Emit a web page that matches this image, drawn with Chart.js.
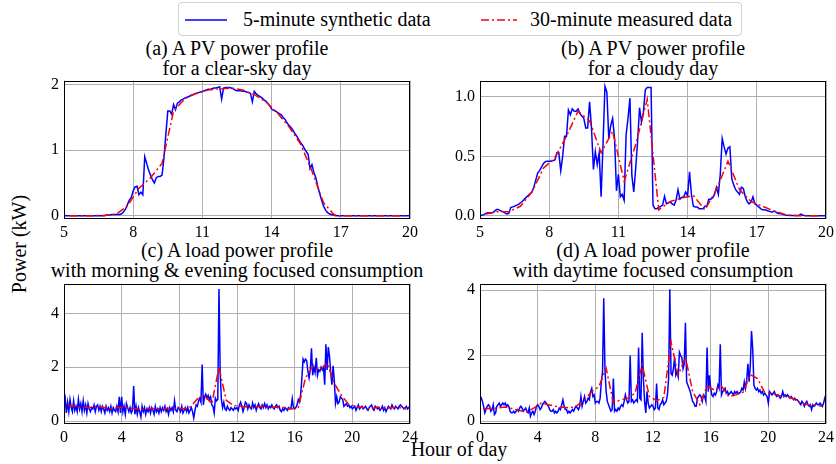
<!DOCTYPE html>
<html>
<head>
<meta charset="utf-8">
<script src="https://cdn.jsdelivr.net/npm/chart.js@4"></script>
<style>
  body { margin: 0; width: 836px; height: 464px; background: #fff; position: relative; overflow: hidden;
         font-family: "Liberation Serif", "Times New Roman", Times, "Nimbus Roman", "DejaVu Serif", serif; color: #000; }
  .title { position: absolute; text-align: center; font-size: 20px; line-height: 20px; white-space: nowrap; transform: translateX(-50%); }
  .legend { position: absolute; left: 178px; top: 2px; width: 562px; height: 32px; border: 1px solid #d0d0d0;
            border-radius: 4px; font-size: 20px; line-height: 32px; background: #fff; }
  .legend span { position: absolute; top: 0; }
  .legend svg { position: absolute; top: 15px; }
  .panel { position: absolute; }
</style>
</head>
<body>

<div class="legend">
  <svg style="left:6px" width="44" height="4"><line x1="0" y1="2" x2="42" y2="2" stroke="#0000ff" stroke-width="1.6"/></svg>
  <span style="left:64px">5-minute synthetic data</span>
  <svg style="left:302px" width="38" height="4"><line x1="0" y1="2" x2="36" y2="2" stroke="#ff0000" stroke-width="1.6" stroke-dasharray="8 3 2 3"/></svg>
  <span style="left:351px">30-minute measured data</span>
</div>

<div class="title" style="left:237px; top:38px">(a) A PV power profile<br>for a clear-sky day</div>
<div class="title" style="left:653px; top:38px">(b) A PV power profile<br>for a cloudy day</div>
<div class="title" style="left:237px; top:240px">(c) A load power profile<br>with morning &amp; evening focused consumption</div>
<div class="title" style="left:653px; top:240px">(d) A load power profile<br>with daytime focused consumption</div>

<div class="title" style="left:19px; top:234px; transform: translate(-50%, 0) rotate(-90deg);">Power (kW)</div>
<div class="title" style="left:459px; top:439px">Hour of day</div>

<div class="panel" id="pa"><canvas id="ca"></canvas></div>
<div class="panel" id="pb"><canvas id="cb"></canvas></div>
<div class="panel" id="pc"><canvas id="cc"></canvas></div>
<div class="panel" id="pd"><canvas id="cd"></canvas></div>

<script>
// 5-minute synthetic PV, clear-sky day, 05:00 .. 20:00
const clearSky5min = [
  0,0,0,0,0,0,0,0,0,0,0,0,
  0,0,0,0,0,0,0,0,0,0,0.01,0.01,
  0.01,0.02,0.02,0.02,0.02,0.02,0.03,0.06,0.1,0.17,0.24,0.28,
  0.38,0.44,0.45,0.32,0.36,0.32,0.9,0.8,0.7,0.62,0.55,0.5,
  0.58,0.6,0.6,0.62,0.88,1.25,1.6,1.6,1.55,1.7,1.62,1.72,
  1.74,1.77,1.78,1.8,1.81,1.82,1.84,1.85,1.86,1.87,1.88,1.89,
  1.9,1.91,1.92,1.93,1.93,1.94,1.95,1.95,1.96,1.97,1.78,1.95,
  1.96,1.96,1.96,1.95,1.94,1.92,1.91,1.91,1.91,1.9,1.9,1.89,
  1.88,1.87,1.74,1.9,1.86,1.84,1.82,1.8,1.77,1.75,1.72,1.68,
  1.63,1.61,1.6,1.58,1.56,1.54,1.5,1.47,1.42,1.38,1.35,1.31,
  1.26,1.22,1.17,1.12,1.08,1.03,0.98,0.94,0.72,0.78,0.66,0.58,
  0.45,0.34,0.24,0.15,0.09,0.05,0.03,0.02,0.01,0.01,0,0,
  0,0,0,0,0,0,0,0,0,0,0,0,
  0,0,0,0,0,0,0,0,0,0,0,0,
  0,0,0,0,0,0,0,0,0,0,0,0,
  0
];
// 30-minute measured PV, clear-sky day, at 05:15, 05:45 .. 19:45
const clearSky30min = [0,0,0,0.005,0.02,0.15,0.42,0.58,0.8,1.6,1.79,1.87,1.92,1.94,1.95,
  1.92,1.85,1.74,1.57,1.36,1.1,0.68,0.2,0,0,0,0,0,0,0];

// 5-minute synthetic PV, cloudy day, 05:00 .. 20:00
const cloudy5min = [
  0,0.005,0.01,0.02,0.025,0.025,0.025,0.03,0.045,0.055,0.05,0.04,
  0.035,0.025,0.015,0.02,0.07,0.075,0.08,0.09,0.095,0.11,0.12,0.14,
  0.155,0.17,0.185,0.2,0.24,0.3,0.36,0.38,0.41,0.44,0.455,0.46,
  0.46,0.46,0.465,0.47,0.53,0.53,0.38,0.5,0.67,0.67,0.89,0.85,
  0.9,0.88,0.88,0.9,0.86,0.84,0.82,0.74,0.74,0.96,0.74,0.39,
  0.54,0.43,0.53,0.16,0.6,1.09,1.04,0.65,0.76,0.82,0.65,0.21,
  0.35,0.16,0.18,0.13,0.68,0.82,0.99,0.34,0.2,0.4,0.63,0.91,
  0.79,0.87,1.06,1.08,1.08,1.08,0.09,0.06,0.06,0.07,0.08,0.09,
  0.165,0.1,0.11,0.115,0.1,0.09,0.13,0.22,0.14,0.155,0.16,0.2,
  0.17,0.37,0.18,0.08,0.075,0.075,0.06,0.06,0.06,0.08,0.08,0.14,
  0.14,0.15,0.18,0.24,0.18,0.35,0.65,0.58,0.52,0.57,0.58,0.31,
  0.26,0.22,0.2,0.18,0.24,0.23,0.16,0.12,0.1,0.115,0.16,0.1,
  0.09,0.075,0.06,0.05,0.05,0.047,0.04,0.035,0.03,0.04,0.03,0.02,
  0.02,0.015,0.01,0.006,0.004,0.003,0.002,0.002,0.002,0.003,0.005,0.014,
  0.005,0.002,0,0,0,0,0,0,0,0,0,0,
  0
];
const cloudy30min = [0.015,0.035,0.035,0.08,0.2,0.4,0.49,0.67,0.88,0.8,0.53,0.71,0.29,0.6,0.98,
  0.05,0.12,0.15,0.17,0.05,0.22,0.46,0.22,0.12,0.08,0.04,0.01,0,0,0];

// 5-minute synthetic load, morning & evening profile, 00:00 .. 24:00
const loadME5min = [
  0.65,0.85,0.3,0.7,0.35,0.8,0.5,0.35,0.75,0.4,0.55,0.35,
  0.8,0.45,0.65,0.35,0.75,0.4,0.6,0.3,0.65,0.45,0.35,0.5,
  0.45,0.6,0.35,0.55,0.6,0.4,0.55,0.35,0.55,0.45,0.3,0.55,
  0.4,0.5,0.35,0.55,0.3,0.5,0.4,0.35,0.55,0.35,0.9,0.3,
  0.9,0.35,0.55,0.25,0.65,0.5,0.35,0.5,0.3,0.4,1.3,0.25,
  0.55,0.25,0.5,0.35,0.15,0.55,0.35,0.5,0.25,0.45,0.35,0.5,
  0.3,0.5,0.4,0.25,0.55,0.35,0.45,0.3,0.5,0.35,0.5,0.4,
  0.55,0.35,0.45,0.25,0.5,0.4,0.5,0.35,0.75,0.4,0.35,0.5,
  0.45,0.35,0.55,0.3,0.4,0.5,0.35,0.5,0.3,0.4,0.5,0.35,
  0.12,0.4,0.6,0.55,0.75,0.85,0.7,2.1,0.6,0.9,1.0,0.85,
  0.95,0.8,0.9,0.6,0.55,0.3,0.85,0.75,0.8,4.9,1.8,0.8,
  0.5,0.7,0.45,0.4,0.55,0.45,0.4,0.5,0.45,0.4,0.5,0.45,
  0.5,0.4,0.6,0.7,0.55,0.35,0.5,0.7,0.65,0.45,0.6,0.5,
  0.45,0.67,0.5,0.6,0.4,0.55,0.65,0.5,0.45,0.6,0.5,0.65,
  0.5,0.6,0.45,0.55,0.5,0.6,0.5,0.45,0.55,0.6,0.5,0.55,
  0.4,0.35,0.45,0.4,0.5,0.45,0.4,0.5,0.45,0.5,0.83,0.5,
  0.45,0.5,0.6,0.8,0.7,1.0,1.6,2.3,2.2,2.3,2.25,1.85,
  1.6,1.9,2.7,1.7,2.0,1.8,2.35,1.7,1.9,1.85,2.0,1.9,
  2.0,1.35,2.85,1.9,2.75,2.4,1.8,1.35,2.05,1.5,0.65,0.9,
  0.65,0.7,0.9,0.85,0.8,0.55,0.6,0.65,0.55,0.6,0.5,0.55,
  0.45,0.5,0.55,0.4,0.5,0.6,0.45,0.5,0.55,0.45,0.5,0.55,
  0.45,0.4,0.5,0.55,0.6,0.45,0.4,0.55,0.5,0.45,0.5,0.4,
  0.45,0.55,0.4,0.5,0.35,0.45,0.55,0.5,0.45,0.6,0.5,0.45,
  0.55,0.5,0.45,0.55,0.6,0.55,0.5,0.45,0.5,0.55,0.45,0.5,
  0.55
];
// 30-minute measured load at 00:15, 00:45 .. 23:45
const loadME30min = [0.6,0.55,0.52,0.5,0.55,0.5,0.45,0.5,0.52,0.48,0.42,0.47,0.47,0.45,0.48,0.48,
  0.46,0.52,0.82,0.95,0.64,2.0,0.77,0.58,0.55,0.52,0.52,0.55,0.5,0.52,0.5,0.45,
  0.5,1.6,2.02,1.9,2.15,1.4,0.95,0.62,0.55,0.5,0.45,0.52,0.48,0.5,0.5,0.45];

// 5-minute synthetic load, daytime profile, 00:00 .. 24:00
const loadDay5min = [
  0.7,0.72,0.6,0.45,0.25,0.35,0.45,0.5,0.45,0.3,0.35,0.5,
  0.2,0.25,0.45,0.5,0.55,0.45,0.5,0.55,0.5,0.55,0.45,0.5,
  0.45,0.3,0.25,0.25,0.3,0.25,0.3,0.35,0.3,0.4,0.45,0.4,
  0.3,0.35,0.4,0.3,0.25,0.4,0.15,0.25,0.3,0.2,0.3,0.45,
  0.5,0.45,0.35,0.4,0.5,0.55,0.6,0.55,0.5,0.45,0.35,0.3,
  0.3,0.35,0.25,0.3,0.25,0.3,0.4,0.35,0.5,0.65,0.45,0.35,
  0.35,0.25,0.3,0.25,0.3,0.35,0.3,0.4,0.45,0.4,0.35,0.45,
  0.75,0.45,0.6,0.75,0.55,0.6,0.7,0.65,0.9,1.0,0.75,0.8,
  0.55,0.6,0.6,0.55,0.7,1.2,1.5,3.75,1.6,0.9,0.6,0.5,
  0.4,0.3,0.35,1.3,0.3,0.35,0.3,0.4,0.35,0.45,0.5,0.45,
  0.6,0.8,0.65,0.55,0.6,2.0,0.6,0.65,0.55,0.6,0.65,0.6,
  2.25,0.7,0.65,2.7,1.3,0.6,0.25,0.9,0.55,0.4,0.45,0.5,
  0.45,0.35,0.4,1.15,0.4,0.35,0.5,0.55,0.65,0.5,0.55,0.6,
  0.8,1.3,4.03,1.45,1.4,1.6,1.95,1.4,1.5,1.35,2.1,2.0,
  1.95,1.6,1.75,3.0,1.2,1.1,1.0,0.9,0.75,0.6,0.55,0.45,
  0.45,0.7,0.75,0.8,0.75,0.6,0.8,0.75,0.6,2.25,0.9,1.4,
  1.0,0.8,0.75,0.85,0.8,0.9,1.1,1.0,2.35,0.8,0.9,0.95,
  1.0,0.85,0.9,0.8,0.85,0.9,0.85,0.8,0.9,0.85,0.9,0.85,
  0.85,0.9,1.0,0.95,1.2,1.0,1.25,1.75,1.2,1.7,2.75,2.2,
  1.1,1.0,0.95,1.0,0.9,0.95,0.85,0.9,0.8,0.85,0.8,0.75,
  0.55,0.9,0.85,0.8,0.85,0.9,0.8,0.75,0.8,0.75,0.7,0.75,
  0.9,0.75,0.8,0.75,0.8,0.75,0.7,0.75,0.7,0.65,0.7,0.65,
  0.65,0.6,0.55,0.5,0.6,0.55,0.45,0.55,0.6,0.5,0.45,0.5,
  0.35,0.5,0.45,0.5,0.55,0.5,0.5,0.55,0.5,0.45,0.55,0.7,
  0.6
];
const loadDay30min = [0.38,0.38,0.4,0.43,0.38,0.32,0.28,0.4,0.55,0.5,0.45,0.42,0.4,0.48,0.65,0.9,
  1.05,1.62,0.55,0.65,0.7,0.85,1.72,0.75,0.62,0.72,2.42,1.4,1.95,0.9,0.5,1.07,
  0.95,1.07,0.75,0.8,0.88,1.42,1.3,0.87,0.85,0.78,0.75,0.68,0.55,0.5,0.48,0.45];

const pvTicksX = [5, 8, 11, 14, 17, 20];
const loadTicksX = [0, 4, 8, 12, 16, 20, 24];

// sample times: 5-minute series start on the hour, 30-minute series sit mid-interval
const xy5 = (vals, start) => vals.map((v, i) => ({ x: start + i / 12, y: v }));
const xy30 = (vals, start) => vals.map((v, i) => ({ x: start + 0.25 + i * 0.5, y: v }));

const frame = {
  id: 'frame',
  afterDatasetsDraw(chart) {
    const { ctx, chartArea: a } = chart;
    ctx.save();
    ctx.strokeStyle = '#000';
    ctx.lineWidth = 1;
    ctx.strokeRect(Math.round(a.left) + 0.5, Math.round(a.top) + 0.5,
                   Math.round(a.right - a.left) - 1, Math.round(a.bottom - a.top) - 1);
    ctx.restore();
  }
};

const font = { family: '"Liberation Serif", "Times New Roman", Times, "Nimbus Roman", "DejaVu Serif", serif', size: 16 };
const PADL = 60, PADT = 12, PADR = 12, PADB = 30;

function makePanel(id, box, blue, red, xr, yr, xTicks, yTicks, yDigits) {
  const holder = document.getElementById('p' + id);
  const cv = document.getElementById('c' + id);
  const w = box.right - box.left + PADL + PADR;
  const h = box.bottom - box.top + PADT + PADB;
  holder.style.left = (box.left - PADL) + 'px';
  holder.style.top = (box.top - PADT) + 'px';
  cv.width = w; cv.height = h;
  cv.style.width = w + 'px'; cv.style.height = h + 'px';

  new Chart(cv.getContext('2d'), {
    type: 'line',
    data: {
      datasets: [
        { label: '5-minute synthetic data', data: blue, borderColor: '#0000ff', borderWidth: 1.5,
          pointRadius: 0, tension: 0, order: 1 },
        { label: '30-minute measured data', data: red, borderColor: '#ff0000', borderWidth: 1.5,
          borderDash: [8, 3, 2, 3], pointRadius: 0, tension: 0, order: 0 }
      ]
    },
    options: {
      responsive: false,
      animation: false,
      devicePixelRatio: 1,
      layout: { padding: { left: 0, top: PADT, right: PADR, bottom: 0 } },
      plugins: { legend: { display: false }, tooltip: { enabled: false } },
      scales: {
        x: {
          type: 'linear', min: xr[0], max: xr[1],
          afterBuildTicks: s => { s.ticks = xTicks.map(v => ({ value: v })); },
          afterFit: s => { s.height = PADB; },
          ticks: { font, color: '#000', padding: 4, maxRotation: 0, autoSkip: false },
          grid: { color: '#b0b0b0', lineWidth: 1, drawTicks: false },
          border: { display: false }
        },
        y: {
          min: yr[0], max: yr[1],
          afterBuildTicks: s => { s.ticks = yTicks.map(v => ({ value: v })); },
          afterFit: s => { s.width = PADL; },
          ticks: { font, color: '#000', padding: 5, callback: v => v.toFixed(yDigits) },
          grid: { color: '#b0b0b0', lineWidth: 1, drawTicks: false },
          border: { display: false }
        }
      }
    },
    plugins: [frame]
  });
}

makePanel('a', { left: 64, top: 78, right: 410, bottom: 219 },
  xy5(clearSky5min, 5), xy30(clearSky30min, 5), [5, 20], [-0.05, 2.064], pvTicksX, [0, 1, 2], 0);
makePanel('b', { left: 480, top: 78, right: 826, bottom: 219 },
  xy5(cloudy5min, 5), xy30(cloudy30min, 5), [5, 20], [-0.027, 1.138], pvTicksX, [0, 0.5, 1], 1);
makePanel('c', { left: 64, top: 281, right: 410, bottom: 424 },
  xy5(loadME5min, 0), xy30(loadME30min, 0), [0, 24], [-0.109, 5.104], loadTicksX, [0, 2, 4], 0);
makePanel('d', { left: 480, top: 281, right: 826, bottom: 424 },
  xy5(loadDay5min, 0), xy30(loadDay30min, 0), [0, 24], [-0.09, 4.2], loadTicksX, [0, 2, 4], 0);
</script>
</body>
</html>
